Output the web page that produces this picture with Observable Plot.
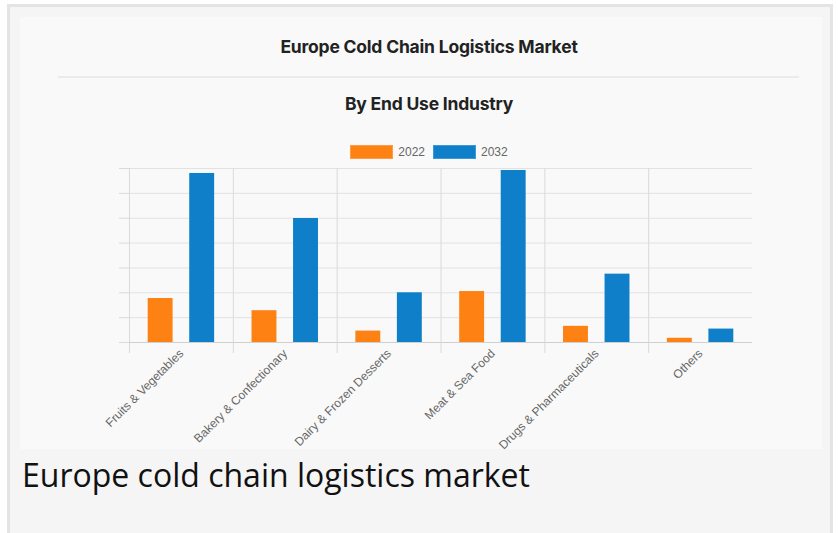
<!DOCTYPE html>
<html>
<head>
<meta charset="utf-8">
<script src="https://cdn.jsdelivr.net/npm/d3@7"></script>
<script src="https://cdn.jsdelivr.net/npm/@observablehq/plot@0.6"></script>
<style>
  html, body { margin: 0; padding: 0; background: #ffffff; width: 838px; height: 533px; overflow: hidden; }
  #outer { position: absolute; left: 7px; top: 4px; width: 826px; height: 540px; background: #f5f5f5; border: 3px solid #e4e4e4; box-sizing: border-box; }
  #inner { position: absolute; left: 20px; top: 17px; width: 802px; height: 432px; background: #f9f9f9; }
  #title { position: absolute; left: 0; width: 858px; top: 36px; text-align: center; font-family: Inter, "Open Sans", sans-serif; font-weight: 700; font-size: 17.5px; color: #222; letter-spacing: -0.2px; }
  #sep { position: absolute; left: 58px; top: 76px; width: 741px; height: 0; border-top: 2px solid #ebebeb; }
  #subtitle { position: absolute; left: 0; width: 858px; top: 93px; text-align: center; font-family: Inter, "Open Sans", sans-serif; font-weight: 700; font-size: 17.5px; color: #222; letter-spacing: -0.2px; }
  #legend { position: absolute; left: 0; width: 858px; top: 145px; display: flex; justify-content: center; align-items: center; font-family: "Liberation Sans", Arial, sans-serif; font-size: 12px; color: #666; }
  .sw { width: 41px; height: 12px; border: 1px solid; display: inline-block; margin-right: 5px; }
  .item { display: flex; align-items: center; margin: 0 4px; }
  #chart { position: absolute; left: 0; top: 130px; }
  #caption { position: absolute; left: 22px; top: 453px; font-family: "Open Sans", sans-serif; font-size: 32px; color: #111; white-space: nowrap; }
</style>
</head>
<body>
<div id="outer"></div>
<div id="inner"></div>
<div id="title">Europe Cold Chain Logistics Market</div>
<div id="sep"></div>
<div id="subtitle">By End Use Industry</div>
<div id="legend"></div>
<div id="chart"></div>
<div id="caption">Europe cold chain logistics market</div>
<script>
// Data (relative units; the source shows no value axis labels)
const categories = ["Fruits & Vegetables", "Bakery & Confectionary", "Dairy & Frozen Desserts", "Meat & Sea Food", "Drugs & Pharmaceuticals", "Others"];
const years = ["2022", "2032"];
const values2022 = [17.7, 12.8, 4.6, 20.5, 6.5, 1.7];
const values2032 = [68.0, 49.9, 20.0, 69.2, 27.5, 5.4];
const yTicks = [0, 10, 20, 30, 40, 50, 60, 70];
const colors = ["#fd8213", "#0f7fc9"];
const borderColors = ["#ff9c45", "#3d98d6"];

const data = [];
categories.forEach((c, i) => {
  data.push({category: c, year: years[0], value: values2022[i]});
  data.push({category: c, year: years[1], value: values2032[i]});
});

// Legend
const legend = document.getElementById("legend");
years.forEach((yr, i) => {
  const it = document.createElement("div");
  it.className = "item";
  const sw = document.createElement("span");
  sw.className = "sw";
  sw.style.background = colors[i];
  sw.style.borderColor = borderColors[i];
  it.appendChild(sw);
  const t = document.createElement("span");
  t.textContent = yr;
  it.appendChild(t);
  legend.appendChild(it);
});

const chart = Plot.plot({
  width: 838,
  height: 330,
  marginTop: 38,
  marginLeft: 129,
  marginRight: 86,
  marginBottom: 118,
  style: {background: "transparent", overflow: "visible"},
  fx: {domain: categories, padding: 0, round: false, label: null},
  x: {domain: years, paddingInner: 0.4, paddingOuter: 0.45, round: false, axis: null},
  y: {domain: [0, 70], axis: null},
  color: {domain: years, range: colors},
  marks: [
    Plot.gridY(yTicks, {stroke: "#e2e2e2", strokeOpacity: 1}),
    Plot.frame({anchor: "left", stroke: "#dadada", insetBottom: -10}),
    Plot.axisY(yTicks, {tickSize: 10, tickFormat: () => "", stroke: "#dadada", strokeOpacity: 1, label: null}),
    Plot.ruleY([0], {stroke: "#cfcfcf"}),
    Plot.barY(data, {fx: "category", x: "year", y: "value", fill: "year"}),
    Plot.axisFx({anchor: "bottom", tickSize: 0, tickPadding: 9, tickRotate: -45, label: null,
      fontSize: 12, fill: "#666", fontFamily: "Liberation Sans, Arial, sans-serif"})
  ]
});
document.getElementById("chart").appendChild(chart);
</script>
</body>
</html>
